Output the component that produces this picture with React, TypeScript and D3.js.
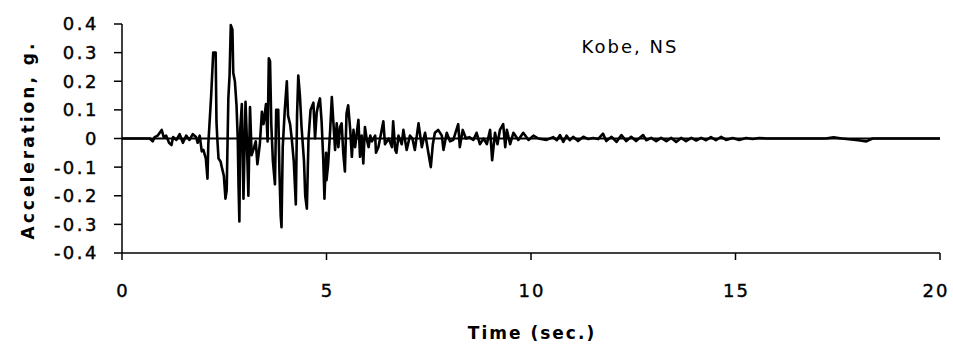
import React from "react";
import * as d3 from "d3";

const timeSec: number[] = [
  0, 0.68, 0.75, 0.8, 0.87, 0.97, 1.02, 1.08, 1.15, 1.21, 1.25, 1.33, 1.41, 1.49, 1.57, 1.65, 1.73, 1.81, 1.85, 1.9, 1.95,
  1.99, 2.05, 2.09, 2.11, 2.18, 2.23, 2.29, 2.31, 2.33, 2.36, 2.41, 2.44, 2.49, 2.53, 2.56, 2.6, 2.63, 2.66, 2.7, 2.72, 2.76,
  2.8, 2.83, 2.85, 2.87, 2.89, 2.93, 2.95, 2.97, 3.02, 3.05, 3.09, 3.13, 3.17, 3.22, 3.27, 3.31,
  3.37, 3.42, 3.46, 3.52, 3.56, 3.59, 3.62, 3.65, 3.69, 3.74, 3.77, 3.82, 3.85, 3.88, 3.9, 3.93, 3.98, 4.03, 4.06, 4.11,
  4.15, 4.2, 4.25, 4.28, 4.31, 4.35, 4.39, 4.45, 4.48, 4.52, 4.56, 4.61, 4.68, 4.72, 4.76, 4.8, 4.84, 4.88, 4.92, 4.95,
  4.99, 5.0, 5.04, 5.09, 5.13, 5.17, 5.21, 5.25, 5.29, 5.33, 5.37, 5.41, 5.45, 5.49, 5.53, 5.58, 5.62, 5.66, 5.7, 5.78,
  5.82, 5.86, 5.9, 5.94, 5.98, 6.03, 6.07, 6.11, 6.19, 6.21, 6.27, 6.35, 6.39, 6.43, 6.52, 6.6, 6.63, 6.68, 6.71, 6.76,
  6.84, 6.88, 6.96, 7.04, 7.1, 7.16, 7.25, 7.33, 7.41, 7.49, 7.55, 7.6, 7.65, 7.73, 7.82, 7.86, 7.94, 8.02, 8.1, 8.22,
  8.26, 8.33, 8.41, 8.49, 8.59, 8.67, 8.75, 8.84, 8.92, 9.0, 9.05, 9.12, 9.18, 9.24, 9.32, 9.37, 9.41, 9.49, 9.57, 9.69,
  9.81, 9.94, 10.06, 10.18, 10.38, 10.54, 10.63, 10.71, 10.79, 10.87, 10.95, 11.03, 11.15, 11.28, 11.4, 11.52, 11.64,
  11.76, 11.84, 11.97, 12.09, 12.21, 12.33, 12.45, 12.57, 12.74, 12.82, 12.94, 13.06, 13.18, 13.31, 13.43, 13.55, 13.67,
  13.79, 13.92, 14.04, 14.16, 14.28, 14.4, 14.52, 14.65, 14.77, 14.93, 15.09, 15.26, 15.42, 15.58, 15.75, 17.2, 17.4,
  17.6, 18.0, 18.2, 18.35, 20,
];

const accelG: number[] = [
  0, 0, -0.01, 0.005, 0.01, 0.03, 0.005, 0.01, -0.015, -0.023, 0.005, -0.005, 0.015, -0.015, 0.01, -0.005, 0.015, 0.005, -0.015, 0.01, -0.045,
  -0.04, -0.07, -0.14, -0.02, 0.15, 0.3, 0.3, 0.058, 0.0, -0.07, -0.08, -0.1, -0.13, -0.21, -0.18, 0.14, 0.22, 0.396, 0.38, 0.23, 0.2,
  0.116, 0.0, -0.17, -0.29, 0.03, 0.12, -0.05, -0.21, 0.128, 0.01, -0.2, 0.11, -0.058, -0.035, -0.01, -0.09,
  -0.02, 0.093, 0.05, 0.12, -0.01, 0.28, 0.27, 0.05, -0.08, -0.16, 0.1, 0.1, -0.12, -0.27, -0.31, -0.03, 0.1, 0.2, 0.08, 0.05,
  0.0, -0.08, -0.23, 0.08, 0.22, 0.15, 0.04, -0.08, -0.2, -0.245, 0.0, 0.1, 0.125, 0.0, 0.09, 0.12, 0.14, 0.06, -0.07, -0.21,
  -0.05, -0.146, -0.09, 0.03, 0.145, 0.053, -0.04, 0.053, -0.03, 0.04, 0.053, -0.05, -0.115, 0.088, 0.116, 0.03, -0.064, 0.03, -0.03, 0.065,
  -0.064, 0.01, -0.087, 0.04, 0.0, -0.03, 0.01, -0.01, 0.01, -0.05, -0.03, 0.03, 0.06, -0.02, 0.0, -0.03, 0.06, -0.04, -0.05, 0.01,
  -0.02, 0.03, -0.04, 0.01, 0.0, -0.04, 0.053, -0.03, 0.02, -0.05, -0.1, -0.02, 0.02, 0.03, 0.01, -0.04, 0.02, -0.01, -0.005, 0.05,
  -0.03, 0.03, 0.0, 0.005, -0.005, 0.02, -0.02, 0.0, -0.02, 0.03, -0.076, 0.02, -0.02, 0.03, 0.05, -0.03, 0.03, -0.02, 0.02, -0.005,
  0.02, -0.005, 0.01, 0.0, -0.005, 0.005, -0.006, 0.012, -0.012, 0.01, -0.006, 0.006, -0.009, 0.006, -0.002, 0.002, -0.002,
  0.017, -0.009, 0.006, -0.012, 0.012, -0.009, 0.006, -0.009, 0.012, -0.006, 0.002, -0.009, 0.002, -0.009, 0.002, -0.012, 0.002,
  -0.009, 0.002, -0.007, 0.002, -0.006, 0.005, -0.006, 0.006, -0.005, 0.002, -0.005, 0.002, -0.002, 0.002, 0, 0, 0.004,
  0, -0.006, -0.01, 0, 0,
];

const xTicks: number[] = [0, 5, 10, 15, 20];
const yTicks: number[] = [0.4, 0.3, 0.2, 0.1, 0, -0.1, -0.2, -0.3, -0.4];
const yTickLabels: string[] = ["0.4", "0.3", "0.2", "0.1", "0", "-0.1", "-0.2", "-0.3", "-0.4"];
const xTickLabels: string[] = ["0", "5", "10", "15", "20"];

export default function App() {
  const W = 953;
  const H = 351;
  const x = d3.scaleLinear().domain([0, 20]).range([122, 940]);
  const y = d3.scaleLinear().domain([-0.4, 0.4]).range([253, 24]);
  const pts: [number, number][] = timeSec.map((t, i) => [t, accelG[i]]);
  const line = d3
    .line<[number, number]>()
    .x((d) => x(d[0]))
    .y((d) => y(d[1]));
  const font = "'DejaVu Sans', Verdana, sans-serif";
  return (
    <svg width={W} height={H} style={{ position: "absolute", left: 0, top: 0, background: "#fff" }}>
      {/* zero line */}
      <line x1={x(0)} x2={x(20)} y1={y(0)} y2={y(0)} stroke="#000" strokeWidth={2.2} />
      {/* waveform */}
      <path d={line(pts) || ""} fill="none" stroke="#000" strokeWidth={2.6} strokeLinejoin="round" />
      {/* y axis */}
      <line x1={x(0)} x2={x(0)} y1={y(0.4)} y2={y(-0.4)} stroke="#000" strokeWidth={1.5} />
      {yTicks.map((v, i) => (
        <g key={"yt" + i}>
          <line x1={x(0) - 8} x2={x(0)} y1={y(v)} y2={y(v)} stroke="#000" strokeWidth={1.5} />
          <text
            x={99}
            y={y(v)}
            dy="0.36em"
            textAnchor="end"
            fontFamily={font}
            fontSize={18}
            letterSpacing={2.5}
            stroke="#000"
            strokeWidth={0.4}
            fill="#000"
          >
            {yTickLabels[i]}
          </text>
        </g>
      ))}
      {/* x axis */}
      <line x1={x(0)} x2={x(20)} y1={y(-0.4)} y2={y(-0.4)} stroke="#000" strokeWidth={1.5} />
      {xTicks.map((v, i) => (
        <g key={"xt" + i}>
          <line x1={x(v)} x2={x(v)} y1={y(-0.4)} y2={y(-0.4) + 7} stroke="#000" strokeWidth={1.5} />
          <text
            x={x(v) + (i === xTicks.length - 1 ? -4 : 1)}
            y={297}
            textAnchor="middle"
            fontFamily={font}
            fontSize={18}
            letterSpacing={2}
            stroke="#000"
            strokeWidth={0.4}
            fill="#000"
          >
            {xTickLabels[i]}
          </text>
        </g>
      ))}
      {/* titles */}
      <text
        transform={`translate(34,140) rotate(-90)`}
        textAnchor="middle"
        fontFamily={font}
        fontWeight="bold"
        fontSize={17}
        letterSpacing={3}
        fill="#000"
      >
        Acceleration, g.
      </text>
      <text
        x={532}
        y={339}
        textAnchor="middle"
        fontFamily={font}
        fontWeight="bold"
        fontSize={17}
        letterSpacing={2}
        fill="#000"
      >
        Time (sec.)
      </text>
      <text x={630} y={53} textAnchor="middle" fontFamily={font} fontSize={18} letterSpacing={2} fill="#000">
        Kobe, NS
      </text>
    </svg>
  );
}
